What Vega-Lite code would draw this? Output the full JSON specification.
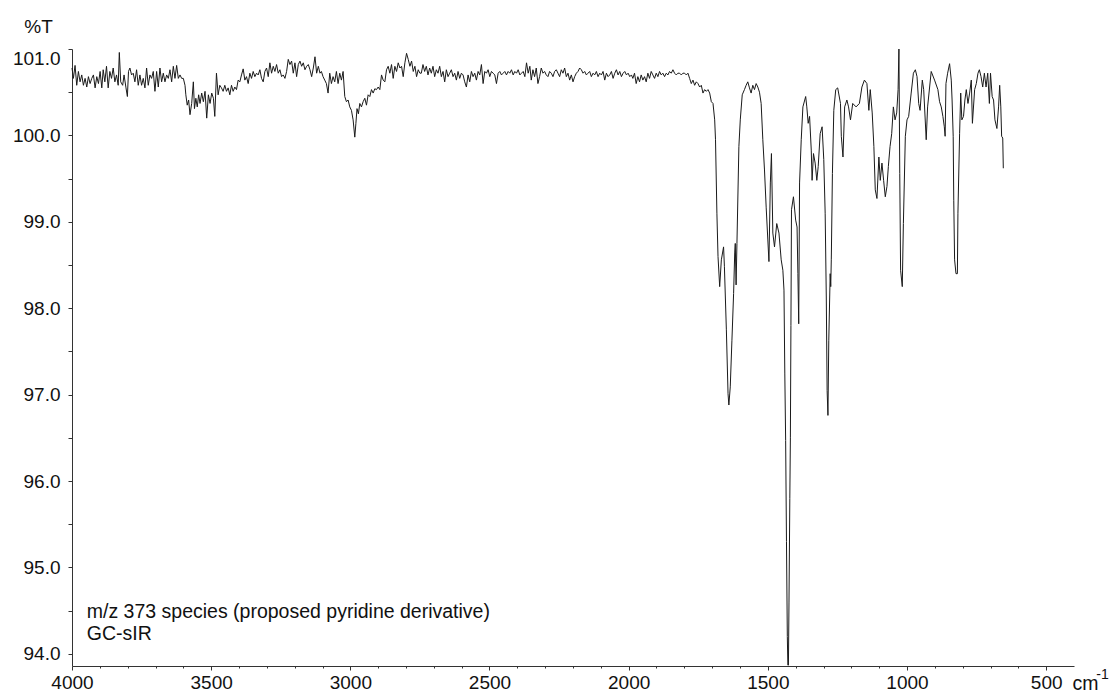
{
  "$schema": "https://vega.github.io/schema/vega-lite/v6.json",
  "width": 1002,
  "height": 617,
  "autosize": {"type": "none"},
  "padding": {"left": 72, "top": 49, "right": 39, "bottom": 34},
  "background": "white",
  "config": {
    "view": {"stroke": null},
    "font": "Liberation Sans",
    "axis": {"labelFont": "Liberation Sans", "titleFont": "Liberation Sans", "grid": false, "domainColor": "#333", "tickColor": "#333", "labelColor": "#111", "titleColor": "#111", "domainWidth": 1, "tickWidth": 1}
  },
  "datasets": {
    "spectrum": [
      {"w":4000,"t":100.78},{"w":3995,"t":100.66},{"w":3989,"t":100.81},{"w":3983,"t":100.58},{"w":3977,"t":100.74},{"w":3971,"t":100.62},{"w":3965,"t":100.70},{"w":3959,"t":100.58},{"w":3953,"t":100.66},{"w":3947,"t":100.56},{"w":3941,"t":100.68},{"w":3935,"t":100.60},{"w":3929,"t":100.66},{"w":3923,"t":100.70},{"w":3917,"t":100.55},{"w":3911,"t":100.68},{"w":3905,"t":100.60},{"w":3899,"t":100.74},{"w":3893,"t":100.55},{"w":3888,"t":100.76},{"w":3882,"t":100.62},{"w":3876,"t":100.80},{"w":3870,"t":100.55},{"w":3864,"t":100.74},{"w":3858,"t":100.66},{"w":3852,"t":100.78},{"w":3846,"t":100.62},{"w":3840,"t":100.70},{"w":3834,"t":100.58},{"w":3830,"t":100.96},{"w":3825,"t":100.62},{"w":3818,"t":100.58},{"w":3813,"t":100.70},{"w":3806,"t":100.55},{"w":3801,"t":100.45},{"w":3797,"t":100.74},{"w":3792,"t":100.78},{"w":3786,"t":100.70},{"w":3780,"t":100.72},{"w":3774,"t":100.62},{"w":3768,"t":100.76},{"w":3762,"t":100.58},{"w":3756,"t":100.70},{"w":3750,"t":100.58},{"w":3744,"t":100.66},{"w":3738,"t":100.55},{"w":3732,"t":100.78},{"w":3726,"t":100.58},{"w":3720,"t":100.70},{"w":3714,"t":100.66},{"w":3708,"t":100.74},{"w":3702,"t":100.51},{"w":3696,"t":100.74},{"w":3690,"t":100.56},{"w":3684,"t":100.78},{"w":3678,"t":100.62},{"w":3672,"t":100.72},{"w":3666,"t":100.62},{"w":3660,"t":100.70},{"w":3654,"t":100.66},{"w":3648,"t":100.76},{"w":3642,"t":100.62},{"w":3636,"t":100.80},{"w":3630,"t":100.66},{"w":3624,"t":100.81},{"w":3618,"t":100.66},{"w":3612,"t":100.70},{"w":3606,"t":100.66},{"w":3600,"t":100.66},
      {"w":3594,"t":100.58},{"w":3591,"t":100.47},{"w":3586,"t":100.35},{"w":3581,"t":100.41},{"w":3576,"t":100.24},{"w":3570,"t":100.37},{"w":3564,"t":100.62},{"w":3560,"t":100.31},{"w":3555,"t":100.43},{"w":3550,"t":100.33},{"w":3545,"t":100.47},{"w":3540,"t":100.37},{"w":3534,"t":100.49},{"w":3528,"t":100.39},{"w":3522,"t":100.51},{"w":3516,"t":100.20},{"w":3510,"t":100.47},{"w":3504,"t":100.37},{"w":3498,"t":100.49},{"w":3492,"t":100.43},{"w":3487,"t":100.22},{"w":3481,"t":100.72},{"w":3475,"t":100.47},{"w":3469,"t":100.58},{"w":3463,"t":100.55},{"w":3457,"t":100.51},{"w":3451,"t":100.58},{"w":3445,"t":100.51},{"w":3439,"t":100.55},{"w":3433,"t":100.47},{"w":3427,"t":100.58},{"w":3421,"t":100.51},{"w":3415,"t":100.56},{"w":3409,"t":100.53},{"w":3403,"t":100.64},{"w":3397,"t":100.62},{"w":3391,"t":100.70},
      {"w":3385,"t":100.77},{"w":3379,"t":100.64},{"w":3373,"t":100.68},{"w":3367,"t":100.60},{"w":3361,"t":100.72},{"w":3355,"t":100.66},{"w":3349,"t":100.74},{"w":3343,"t":100.68},{"w":3337,"t":100.72},{"w":3331,"t":100.70},{"w":3325,"t":100.76},{"w":3319,"t":100.66},{"w":3313,"t":100.62},{"w":3307,"t":100.74},{"w":3301,"t":100.78},{"w":3295,"t":100.68},{"w":3289,"t":100.84},{"w":3283,"t":100.72},{"w":3277,"t":100.80},{"w":3271,"t":100.74},{"w":3265,"t":100.82},{"w":3259,"t":100.72},{"w":3253,"t":100.76},{"w":3247,"t":100.68},{"w":3241,"t":100.70},{"w":3235,"t":100.66},{"w":3229,"t":100.74},{"w":3223,"t":100.88},{"w":3217,"t":100.82},{"w":3211,"t":100.86},{"w":3205,"t":100.72},{"w":3199,"t":100.84},{"w":3193,"t":100.68},{"w":3187,"t":100.82},{"w":3181,"t":100.86},{"w":3175,"t":100.80},{"w":3169,"t":100.84},{"w":3163,"t":100.76},{"w":3157,"t":100.80},{"w":3151,"t":100.82},{"w":3145,"t":100.76},{"w":3139,"t":100.68},{"w":3133,"t":100.78},{"w":3127,"t":100.91},{"w":3121,"t":100.72},{"w":3115,"t":100.80},{"w":3109,"t":100.72},{"w":3104,"t":100.74},{"w":3098,"t":100.68},{"w":3092,"t":100.64},{"w":3086,"t":100.60},{"w":3080,"t":100.49},{"w":3074,"t":100.72},{"w":3068,"t":100.60},{"w":3062,"t":100.68},{"w":3056,"t":100.62},{"w":3050,"t":100.74},{"w":3044,"t":100.60},{"w":3038,"t":100.72},{"w":3032,"t":100.64},{"w":3026,"t":100.74},{"w":3020,"t":100.45},{"w":3014,"t":100.39},{"w":3008,"t":100.41},{"w":3002,"t":100.33},{"w":2996,"t":100.29},{"w":2990,"t":100.18},{"w":2984,"t":99.98},{"w":2980,"t":100.14},{"w":2976,"t":100.31},{"w":2971,"t":100.25},{"w":2966,"t":100.37},{"w":2960,"t":100.33},{"w":2954,"t":100.39},{"w":2948,"t":100.43},{"w":2942,"t":100.35},{"w":2936,"t":100.47},{"w":2930,"t":100.45},{"w":2924,"t":100.53},{"w":2918,"t":100.49},{"w":2912,"t":100.54},{"w":2906,"t":100.53},{"w":2900,"t":100.56},{"w":2894,"t":100.53},{"w":2888,"t":100.70},{"w":2882,"t":100.64},{"w":2876,"t":100.62},{"w":2870,"t":100.76},{"w":2864,"t":100.80},{"w":2858,"t":100.72},{"w":2852,"t":100.82},{"w":2846,"t":100.66},{"w":2840,"t":100.80},{"w":2834,"t":100.74},{"w":2828,"t":100.84},{"w":2822,"t":100.78},{"w":2816,"t":100.80},{"w":2810,"t":100.68},{"w":2804,"t":100.84},{"w":2798,"t":100.95},{"w":2792,"t":100.88},{"w":2786,"t":100.80},{"w":2780,"t":100.86},{"w":2774,"t":100.74},{"w":2768,"t":100.80},{"w":2762,"t":100.68},{"w":2756,"t":100.76},{"w":2750,"t":100.72},
      {"w":2745,"t":100.72},{"w":2739,"t":100.82},{"w":2733,"t":100.74},{"w":2727,"t":100.80},{"w":2721,"t":100.70},{"w":2715,"t":100.78},{"w":2709,"t":100.72},{"w":2703,"t":100.80},{"w":2697,"t":100.68},{"w":2691,"t":100.76},{"w":2685,"t":100.72},{"w":2679,"t":100.80},{"w":2673,"t":100.68},{"w":2667,"t":100.74},{"w":2661,"t":100.62},{"w":2655,"t":100.76},{"w":2649,"t":100.68},{"w":2643,"t":100.72},{"w":2637,"t":100.76},{"w":2631,"t":100.68},{"w":2625,"t":100.72},{"w":2619,"t":100.64},{"w":2613,"t":100.74},{"w":2607,"t":100.66},{"w":2601,"t":100.72},{"w":2595,"t":100.70},{"w":2589,"t":100.62},{"w":2583,"t":100.56},{"w":2577,"t":100.70},{"w":2571,"t":100.62},{"w":2565,"t":100.74},{"w":2559,"t":100.68},{"w":2553,"t":100.72},{"w":2547,"t":100.64},{"w":2541,"t":100.74},{"w":2535,"t":100.70},{"w":2529,"t":100.82},{"w":2523,"t":100.60},{"w":2517,"t":100.74},{"w":2511,"t":100.72},{"w":2505,"t":100.76},{"w":2499,"t":100.68},{"w":2493,"t":100.74},{"w":2487,"t":100.72},{"w":2481,"t":100.70},{"w":2475,"t":100.60},{"w":2469,"t":100.72},{"w":2463,"t":100.74},{"w":2457,"t":100.70},{"w":2451,"t":100.72},{"w":2445,"t":100.74},{"w":2439,"t":100.70},{"w":2433,"t":100.74},{"w":2427,"t":100.72},{"w":2421,"t":100.76},{"w":2415,"t":100.70},{"w":2409,"t":100.74},{"w":2403,"t":100.72},{"w":2397,"t":100.76},{"w":2391,"t":100.70},{"w":2385,"t":100.72},{"w":2379,"t":100.74},{"w":2373,"t":100.68},{"w":2367,"t":100.84},{"w":2361,"t":100.72},{"w":2355,"t":100.80},{"w":2350,"t":100.64},{"w":2344,"t":100.76},{"w":2338,"t":100.68},{"w":2332,"t":100.78},{"w":2326,"t":100.60},{"w":2320,"t":100.68},{"w":2314,"t":100.78},{"w":2308,"t":100.72},{"w":2302,"t":100.74},{"w":2296,"t":100.70},{"w":2290,"t":100.68},{"w":2284,"t":100.74},{"w":2278,"t":100.72},{"w":2272,"t":100.68},{"w":2266,"t":100.74},{"w":2260,"t":100.76},{"w":2254,"t":100.72},{"w":2248,"t":100.68},{"w":2242,"t":100.76},{"w":2236,"t":100.72},{"w":2230,"t":100.78},{"w":2224,"t":100.68},{"w":2218,"t":100.72},{"w":2212,"t":100.64},{"w":2206,"t":100.70},{"w":2200,"t":100.62},{"w":2194,"t":100.68},{"w":2188,"t":100.72},{"w":2182,"t":100.74},{"w":2176,"t":100.78},{"w":2170,"t":100.76},{"w":2164,"t":100.72},{"w":2158,"t":100.74},{"w":2152,"t":100.70},{"w":2146,"t":100.72},{"w":2140,"t":100.74},{"w":2134,"t":100.68},{"w":2128,"t":100.72},{"w":2122,"t":100.70},{"w":2116,"t":100.74},{"w":2110,"t":100.68},{"w":2104,"t":100.72},{"w":2098,"t":100.70},{"w":2092,"t":100.74},{"w":2086,"t":100.64},{"w":2080,"t":100.72},{"w":2074,"t":100.68},{"w":2068,"t":100.70},{"w":2062,"t":100.74},{"w":2056,"t":100.66},{"w":2050,"t":100.72},{"w":2044,"t":100.76},{"w":2038,"t":100.70},{"w":2032,"t":100.74},{"w":2026,"t":100.68},{"w":2020,"t":100.72},{"w":2014,"t":100.74},{"w":2008,"t":100.70},{"w":2002,"t":100.72},{"w":1996,"t":100.68},{"w":1990,"t":100.70},{"w":1985,"t":100.66},{"w":1979,"t":100.72},{"w":1973,"t":100.60},{"w":1967,"t":100.68},{"w":1961,"t":100.62},{"w":1955,"t":100.70},{"w":1949,"t":100.64},{"w":1943,"t":100.68},{"w":1937,"t":100.62},{"w":1931,"t":100.72},{"w":1925,"t":100.66},{"w":1919,"t":100.74},{"w":1913,"t":100.70},{"w":1907,"t":100.66},{"w":1901,"t":100.72},{"w":1895,"t":100.68},{"w":1889,"t":100.74},{"w":1883,"t":100.70},{"w":1877,"t":100.72},{"w":1871,"t":100.68},{"w":1865,"t":100.72},{"w":1859,"t":100.70},{"w":1853,"t":100.74},{"w":1847,"t":100.72},{"w":1841,"t":100.76},{"w":1835,"t":100.72},{"w":1829,"t":100.70},{"w":1823,"t":100.72},{"w":1817,"t":100.72},{"w":1811,"t":100.70},{"w":1805,"t":100.72},{"w":1799,"t":100.72},{"w":1793,"t":100.70},{"w":1787,"t":100.72},{"w":1781,"t":100.66},{"w":1775,"t":100.60},{"w":1769,"t":100.64},{"w":1763,"t":100.58},{"w":1757,"t":100.62},{"w":1751,"t":100.60},{"w":1745,"t":100.56},{"w":1739,"t":100.58},{"w":1733,"t":100.49},{"w":1727,"t":100.53},{"w":1721,"t":100.51},{"w":1715,"t":100.53},{"w":1709,"t":100.49},{"w":1703,"t":100.39},{"w":1697,"t":100.37},{"w":1691,"t":100.18},
      {"w":1688,"t":99.95},{"w":1683,"t":99.10},{"w":1679,"t":98.60},{"w":1673,"t":98.25},{"w":1667,"t":98.56},{"w":1659,"t":98.71},{"w":1656,"t":98.48},{"w":1649,"t":97.75},{"w":1643,"t":97.01},{"w":1640,"t":96.88},{"w":1635,"t":97.09},{"w":1629,"t":97.63},{"w":1623,"t":98.17},{"w":1619,"t":98.64},{"w":1617,"t":98.75},{"w":1614,"t":98.27},{"w":1611,"t":98.75},{"w":1604,"t":99.87},{"w":1599,"t":100.18},{"w":1592,"t":100.47},{"w":1584,"t":100.53},{"w":1578,"t":100.58},{"w":1572,"t":100.62},{"w":1566,"t":100.55},{"w":1560,"t":100.49},{"w":1554,"t":100.58},{"w":1548,"t":100.53},{"w":1542,"t":100.60},{"w":1536,"t":100.56},{"w":1530,"t":100.50},{"w":1524,"t":100.37},{"w":1518,"t":99.95},{"w":1512,"t":99.60},{"w":1506,"t":99.17},{"w":1500,"t":98.79},{"w":1496,"t":98.54},{"w":1491,"t":99.45},{"w":1487,"t":99.79},{"w":1482,"t":98.87},{"w":1476,"t":98.71},{"w":1468,"t":98.98},{"w":1460,"t":98.87},{"w":1452,"t":98.56},{"w":1446,"t":98.44},{"w":1442,"t":98.21},{"w":1439,"t":97.25},{"w":1436,"t":96.47},{"w":1433,"t":95.3},{"w":1430,"t":94.2},{"w":1428,"t":93.87},{"w":1426,"t":93.87},{"w":1424,"t":94.6},{"w":1421,"t":95.8},{"w":1419,"t":96.5},{"w":1417,"t":97.8},{"w":1415,"t":99.14},{"w":1408,"t":99.29},{"w":1400,"t":99.02},{"w":1395,"t":98.94},{"w":1392,"t":98.40},{"w":1389,"t":97.82},{"w":1386,"t":99.45},{"w":1380,"t":99.95},{"w":1374,"t":100.33},{"w":1364,"t":100.45},{"w":1360,"t":100.33},{"w":1355,"t":100.14},{"w":1350,"t":100.22},{"w":1344,"t":99.83},{"w":1341,"t":99.48},{"w":1336,"t":99.79},{"w":1330,"t":99.68},{"w":1324,"t":99.48},{"w":1319,"t":99.64},{"w":1312,"t":100.02},{"w":1305,"t":100.10},{"w":1299,"t":99.72},{"w":1294,"t":99.10},{"w":1290,"t":98.13},{"w":1287,"t":97.05},{"w":1284,"t":96.76},{"w":1281,"t":97.63},{"w":1276,"t":98.40},{"w":1274,"t":98.25},{"w":1272,"t":98.56},{"w":1268,"t":99.56},{"w":1263,"t":100.29},{"w":1256,"t":100.53},{"w":1249,"t":100.55},
      {"w":1239,"t":100.37},{"w":1236,"t":99.99},{"w":1230,"t":99.75},{"w":1224,"t":100.33},{"w":1216,"t":100.41},{"w":1210,"t":100.33},{"w":1203,"t":100.18},{"w":1195,"t":100.37},{"w":1183,"t":100.33},{"w":1171,"t":100.37},{"w":1162,"t":100.56},{"w":1153,"t":100.64},{"w":1144,"t":100.60},{"w":1137,"t":100.29},{"w":1132,"t":100.53},{"w":1125,"t":100.26},{"w":1119,"t":99.87},{"w":1114,"t":99.37},{"w":1108,"t":99.27},{"w":1101,"t":99.75},{"w":1096,"t":99.48},{"w":1090,"t":99.68},{"w":1084,"t":99.48},{"w":1078,"t":99.29},{"w":1072,"t":99.41},{"w":1067,"t":99.64},{"w":1061,"t":99.87},{"w":1055,"t":100.02},{"w":1049,"t":100.33},{"w":1043,"t":100.18},{"w":1037,"t":100.26},{"w":1032,"t":100.53},{"w":1029,"t":101.0},{"w":1026,"t":99.56},{"w":1023,"t":98.44},{"w":1017,"t":98.25},{"w":1013,"t":98.98},{"w":1006,"t":99.99},{"w":1000,"t":100.18},{"w":994,"t":100.22},{"w":985,"t":100.49},{"w":977,"t":100.72},{"w":970,"t":100.76},{"w":964,"t":100.68},{"w":958,"t":100.37},{"w":953,"t":100.29},{"w":945,"t":100.64},{"w":940,"t":100.53},{"w":931,"t":99.95},{"w":926,"t":100.33},{"w":913,"t":100.74},{"w":901,"t":100.64},{"w":889,"t":100.53},
      {"w":883,"t":100.39},{"w":877,"t":100.33},{"w":871,"t":100.22},{"w":866,"t":100.10},{"w":863,"t":99.99},{"w":860,"t":100.60},{"w":854,"t":100.72},{"w":847,"t":100.83},{"w":841,"t":100.64},{"w":838,"t":100.41},{"w":834,"t":99.99},{"w":832,"t":99.25},{"w":829,"t":98.56},{"w":824,"t":98.40},{"w":819,"t":98.40},{"w":817,"t":99.10},{"w":811,"t":100.02},{"w":807,"t":100.49},{"w":803,"t":100.18},{"w":797,"t":100.22},{"w":792,"t":100.41},{"w":787,"t":100.53},{"w":781,"t":100.37},{"w":775,"t":100.49},{"w":769,"t":100.64},{"w":765,"t":100.14},{"w":757,"t":100.53},{"w":751,"t":100.60},{"w":745,"t":100.72},{"w":740,"t":100.76},{"w":734,"t":100.68},{"w":728,"t":100.56},{"w":722,"t":100.72},{"w":716,"t":100.56},{"w":710,"t":100.72},{"w":704,"t":100.37},{"w":700,"t":100.72},{"w":694,"t":100.45},{"w":689,"t":100.41},{"w":684,"t":100.18},{"w":677,"t":100.08},{"w":671,"t":100.33},{"w":667,"t":100.58},{"w":663,"t":100.33},{"w":660,"t":99.99},{"w":656,"t":99.97},{"w":654,"t":99.62}
    ],
    "notes": [
      {"w":3947,"t":94.417,"label":"m/z 373 species (proposed pyridine derivative)"},
      {"w":3947,"t":94.162,"label":"GC-sIR"},
      {"w":405.7,"t":93.584,"label":"cm"}
    ],
    "sup": [
      {"w":320,"t":93.711,"label":"-1"}
    ]
  },
  "resolve": {"axis": {"x": "independent", "y": "independent"}},
  "layer": [
    {
      "data": {"name": "spectrum"},
      "mark": {"type": "line", "stroke": "#1a1a1a", "strokeWidth": 1, "interpolate": "linear"},
      "encoding": {
        "x": {"field": "w", "type": "quantitative", "scale": {"domain": [4000, 400], "nice": false, "zero": false},
              "axis": {"orient": "bottom", "values": [4000,3500,3000,2500,2000,1500,1000,500], "format": "d", "labelFontSize": 19, "tickSize": 4, "labelPadding": 3, "labelFlush": false, "labelOverlap": false, "title": null}},
        "y": {"field": "t", "type": "quantitative", "scale": {"domain": [93.86, 101.0], "nice": false, "zero": false},
              "axis": {"orient": "left", "values": [94,94.5,95,95.5,96,96.5,97,97.5,98,98.5,99,99.5,100,100.5,101], "labelExpr": "datum.value % 1 == 0 ? format(datum.value, '.1f') : ''", "labelFontSize": 19, "tickSize": 4, "labelPadding": 8, "labelFlush": true, "labelOverlap": false,
                       "title": "%T", "titleAngle": 0, "titleX": -34, "titleY": -17, "titleAlign": "center", "titleBaseline": "alphabetic", "titleFontSize": 19, "titleFontWeight": "normal"}}
      }
    },
    {
      "data": {"name": "notes"},
      "mark": {"type": "text", "align": "left", "baseline": "alphabetic", "fontSize": 19.5, "font": "Liberation Sans", "color": "#111"},
      "encoding": {
        "x": {"field": "w", "type": "quantitative", "axis": {"orient": "bottom", "values": [3900,3800,3700,3600,3400,3300,3200,3100,2900,2800,2700,2600,2400,2300,2200,2100,1900,1800,1700,1600,1400,1300,1200,1100,900,800,700,600], "labels": false, "domain": false, "tickSize": 2, "title": null}},
        "y": {"field": "t", "type": "quantitative", "axis": null},
        "text": {"field": "label"}
      }
    },
    {
      "data": {"name": "sup"},
      "mark": {"type": "text", "align": "left", "baseline": "alphabetic", "fontSize": 14, "font": "Liberation Sans", "color": "#111"},
      "encoding": {
        "x": {"field": "w", "type": "quantitative", "axis": null},
        "y": {"field": "t", "type": "quantitative", "axis": null},
        "text": {"field": "label"}
      }
    }
  ]
}
